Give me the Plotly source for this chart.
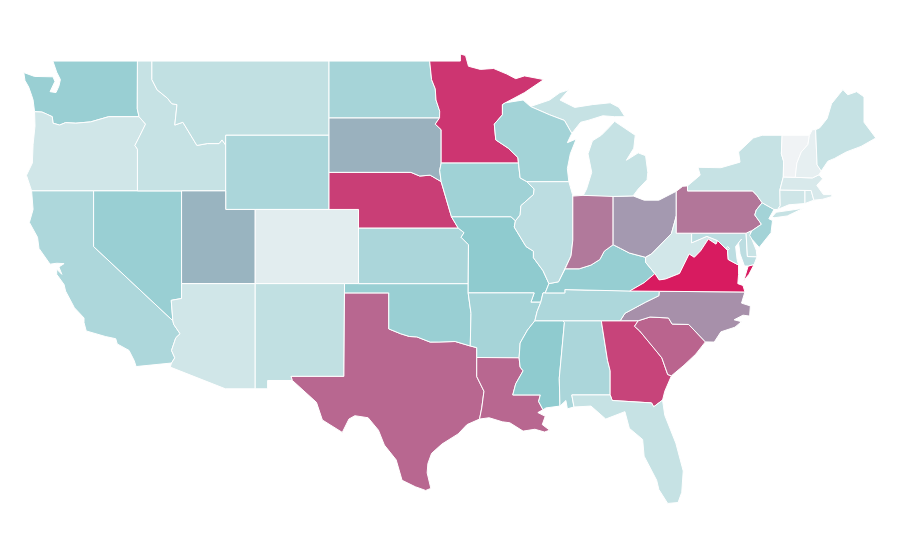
import plotly.graph_objects as go
from plotly.colors import sample_colorscale

# outlines are lon, lat pairs, None starts a separate piece of the same state
WA = [(-122.76,49),(-117.03,49),(-117.04,46.42),(-116.92,46),(-118.98,46),(-119.3,45.93),(-120.2,45.72),(-121.2,45.65),(-121.9,45.68),
      (-122.3,45.55),(-122.75,45.65),(-122.8,46),(-123.2,46.15),(-123.5,46.25),(-124,46.27),(-124.07,46.65),(-124.1,46.9),(-124.2,47.15),
      (-124.4,47.6),(-124.65,47.95),(-124.73,48.38),(-124,48.17),(-123.2,48.15),(-122.75,48.15),(-122.62,47.9),(-122.95,47.35),(-122.55,47.3),
      (-122.35,47.65),(-122.25,48),(-122.5,48.4)]
OR = [(-124,46.27),(-123.5,46.25),(-123.2,46.15),(-122.8,46),(-122.75,45.65),(-122.3,45.55),(-121.9,45.68),(-121.2,45.65),(-120.2,45.72),
      (-119.3,45.93),(-118.98,46),(-116.92,46),(-116.48,45.6),(-116.85,45),(-117.2,44.45),(-117.03,44.25),(-117.03,42),(-124.2,42),
      (-124.4,42.5),(-124.55,42.84),(-124.15,43.5),(-124.1,44.5),(-123.97,45.5)]
CA = [(-124.2,42),(-120,42),(-120,39),(-114.63,35),(-114.57,34.8),(-114.14,34.3),(-114.43,34.08),(-114.72,33.4),(-114.5,33),(-114.72,32.72),
      (-117.12,32.53),(-117.25,32.85),(-117.6,33.4),(-118.4,33.75),(-118.5,34.03),(-119.2,34.15),(-120.5,34.45),(-120.65,34.9),(-120.65,35.15),
      (-121.3,35.7),(-121.9,36.6),(-122,36.95),(-122.5,37.5),(-122.5,37.78),(-122.15,37.5),(-122.35,37.9),(-122,38.08),(-122.5,38.1),
      (-122.95,38.05),(-123.7,38.9),(-123.8,39.5),(-124.35,40.3),(-124.1,41)]
NV = [(-120,42),(-114.04,42),(-114.04,36.2),(-114.74,36.1),(-114.63,35),(-120,39)]
ID = [(-117.03,49),(-116.05,49),(-116.05,48),(-115.7,47.45),(-115,47),(-114.7,46.7),(-114.35,46.65),(-114.5,45.55),(-113.95,45.7),(-113.45,45.05),
      (-113,44.45),(-112.3,44.55),(-111.5,44.55),(-111.3,44.75),(-111.05,44.47),(-111.05,42),(-117.03,42),(-117.03,44.25),(-117.2,44.45),
      (-116.85,45),(-116.48,45.6),(-116.92,46),(-117.04,46.42)]
MT = [(-116.05,49),(-104.05,49),(-104.05,45),(-111.05,45),(-111.05,44.47),(-111.3,44.75),(-111.5,44.55),(-112.3,44.55),(-113,44.45),(-113.45,45.05),
      (-113.95,45.7),(-114.5,45.55),(-114.35,46.65),(-114.7,46.7),(-115,47),(-115.7,47.45),(-116.05,48)]
WY = [(-111.05,45),(-104.05,45),(-104.05,41),(-111.05,41)]
UT = [(-114.04,42),(-111.05,42),(-111.05,41),(-109.05,41),(-109.05,37),(-114.04,37)]
CO = [(-109.05,41),(-102.05,41),(-102.05,37),(-109.05,37)]
AZ = [(-114.04,37),(-109.05,37),(-109.05,31.33),(-111.07,31.33),(-114.81,32.5),(-114.72,32.72),(-114.5,33),(-114.72,33.4),(-114.43,34.08),
      (-114.14,34.3),(-114.57,34.8),(-114.63,35),(-114.74,36.1),(-114.04,36.2)]
NM = [(-109.05,37),(-103,37),(-103.04,32),(-106.62,32),(-106.53,31.78),(-108.21,31.78),(-108.21,31.33),(-109.05,31.33)]
TX = [(-103,36.5),(-100,36.5),(-100,34.56),(-99.2,34.3),(-98.6,34.15),(-98.1,34.13),(-97.2,33.85),(-96.6,33.85),(-95.5,33.88),(-94.48,33.64),
      (-94.04,33.55),(-94.04,31.99),(-93.55,31.2),(-93.7,30.3),(-93.85,29.7),(-94.7,29.4),(-95.3,28.9),(-96.4,28.35),(-97.1,27.85),(-97.35,27.3),
      (-97.4,26.8),(-97.15,25.96),(-97.5,25.85),(-98.2,26.05),(-99.1,26.4),(-99.5,27.5),(-100.3,28.3),(-100.7,29.1),(-101.4,29.77),(-102.3,29.88),
      (-102.7,29.7),(-103.15,28.98),(-104.5,29.65),(-104.9,30.6),(-106,31.4),(-106.53,31.78),(-106.62,32),(-103.04,32)]
OK = [(-103,37),(-94.62,37),(-94.62,36.5),(-94.43,35.4),(-94.48,33.64),(-95.5,33.88),(-96.6,33.85),(-97.2,33.85),(-98.1,34.13),(-98.6,34.15),
      (-99.2,34.3),(-100,34.56),(-100,36.5),(-103,36.5)]
KS = [(-102.05,40),(-95.3,40),(-94.9,39.75),(-95.1,39.5),(-94.6,39.1),(-94.62,37),(-102.05,37)]
NE = [(-104.05,43),(-98.5,43),(-97.9,42.8),(-97.2,42.85),(-96.45,42.5),(-96.25,42),(-96.1,41.5),(-95.9,41),(-95.75,40.6),(-95.3,40),(-102.05,40),
      (-102.05,41),(-104.05,41)]
SD = [(-104.05,45.94),(-96.56,45.94),(-96.85,45.6),(-96.45,45.3),(-96.45,43.5),(-96.55,43.1),(-96.45,42.5),(-97.2,42.85),(-97.9,42.8),(-98.5,43),(-104.05,43)]
ND = [(-104.05,49),(-97.23,49),(-97.1,48),(-96.85,47.5),(-96.8,46.9),(-96.55,46.3),(-96.56,45.94),(-104.05,45.94)]
MN = [(-97.23,49),(-95.15,49),(-95.15,49.38),(-94.8,49.3),(-94.6,48.72),(-93.8,48.55),(-92.9,48.6),(-92,48.3),(-91.4,48.05),(-90.8,48.2),(-89.5,48),
      (-90.8,47.3),(-92.1,46.75),(-92.3,46.65),(-92.3,46.1),(-92.85,45.6),(-92.75,44.75),(-91.9,44.3),(-91.25,43.8),(-91.22,43.5),(-96.45,43.5),
      (-96.45,45.3),(-96.85,45.6),(-96.56,45.94),(-96.55,46.3),(-96.8,46.9),(-96.85,47.5),(-97.1,48)]
IA = [(-96.45,43.5),(-91.22,43.5),(-91.1,42.7),(-90.65,42.5),(-90.15,42.1),(-90.2,41.8),(-91.05,41.2),(-91.1,40.7),(-91.42,40.38),(-91.72,40.6),
      (-95.75,40.6),(-95.9,41),(-96.1,41.5),(-96.25,42),(-96.45,42.5),(-96.55,43.1)]
MO = [(-95.75,40.6),(-91.72,40.6),(-91.42,40.38),(-91.5,40.05),(-90.7,39),(-90.2,38.75),(-90.2,38.4),(-89.55,37.7),(-89.15,37),(-89.4,36.5),(-89.55,36.5),
      (-89.7,36),(-90.37,36),(-90.15,36.5),(-94.62,36.5),(-94.62,37),(-94.6,39.1),(-95.1,39.5),(-94.9,39.75),(-95.3,40)]
AR = [(-94.62,36.5),(-90.15,36.5),(-90.37,36),(-89.7,36),(-89.95,35.5),(-90.1,35),(-90.6,34.5),(-91.1,33.8),(-91.17,33),(-94.04,33.02),(-94.04,33.55),
      (-94.48,33.64),(-94.43,35.4)]
LA = [(-94.04,33.02),(-91.17,33),(-91.1,32.5),(-90.9,32.3),(-91.4,31.6),(-91.6,31),(-89.73,31),(-89.85,30.65),(-89.55,30.2),(-89.9,30.05),(-89.4,29.85),
      (-89.6,29.4),(-89.1,29.1),(-89.45,29),(-90.1,29.15),(-90.9,29.05),(-91.8,29.5),(-92.3,29.55),(-93.2,29.77),(-93.85,29.7),(-93.7,30.3),(-93.55,31.2),(-94.04,31.99)]
MS = [(-90.1,35),(-88.2,35),(-88.1,34.9),(-88.45,31.9),(-88.4,30.4),(-89.35,30.3),(-89.55,30.2),(-89.85,30.65),(-89.73,31),(-91.6,31),(-91.4,31.6),
      (-90.9,32.3),(-91.1,32.5),(-91.17,33),(-91.1,33.8),(-90.6,34.5)]
AL = [(-88.2,35),(-85.6,35),(-85.18,32.87),(-85,32.3),(-85,31),(-87.6,31),(-87.45,30.35),(-87.9,30.25),(-88,30.7),(-88.4,30.4),(-88.45,31.9),(-88.1,34.9)]
GA = [(-85.6,35),(-83.1,35),(-83.35,34.7),(-83,34.45),(-82,33.5),(-81.5,33),(-81.1,32.1),(-80.85,32.03),(-81.3,31.2),(-81.45,30.72),(-82.05,30.36),
      (-82.2,30.57),(-84.86,30.7),(-85,31),(-85,32.3),(-85.18,32.87)]
FL = [(-87.6,31),(-85,31),(-84.86,30.7),(-82.2,30.57),(-82.05,30.36),(-81.45,30.72),(-81.3,29.9),(-80.55,28.4),(-80.05,26.9),(-80.15,25.75),(-80.4,25.2),
      (-81.1,25.15),(-81.7,25.9),(-81.85,26.4),(-82.7,27.7),(-82.8,28.6),(-83.7,29.2),(-84,30.1),(-85.3,29.7),(-86.3,30.4),(-87.45,30.35)]
SC = [(-83.1,35),(-82.3,35.2),(-81.05,35.15),(-80.8,34.82),(-79.68,34.8),(-78.55,33.86),(-79.2,33.2),(-80,32.6),(-80.85,32.03),(-81.1,32.1),(-81.5,33),
      (-82,33.5),(-83,34.45),(-83.35,34.7)]
NC = [(-84.32,35),(-83.1,35),(-82.3,35.2),(-81.05,35.15),(-80.8,34.82),(-79.68,34.8),(-78.55,33.86),(-77.95,33.85),(-77.5,34.4),(-76.55,34.65),(-76.1,34.95),
      (-76.6,35.05),(-76,35.3),(-75.55,35.25),(-75.5,35.8),(-76.1,35.95),(-75.87,36.55),(-81.68,36.59),(-81.7,36.35),(-82.6,36),(-84,35.4)]
TN = [(-90.1,35),(-89.95,35.5),(-89.7,36),(-89.55,36.5),(-88.07,36.5),(-88.07,36.68),(-86.5,36.65),(-83.68,36.6),(-81.68,36.59),(-81.7,36.35),(-82.6,36),
      (-84,35.4),(-84.32,35),(-85.6,35),(-88.2,35)]
KY = [(-89.4,36.5),(-89.15,37),(-88.5,37.1),(-88.05,37.8),(-87.1,37.8),(-86.3,38),(-85.7,38.3),(-85.4,38.75),(-84.8,39.1),(-84.3,38.9),(-83.7,38.65),
      (-82.6,38.42),(-82.6,38.15),(-81.97,37.54),(-82.7,37.05),(-83.68,36.6),(-86.5,36.65),(-88.07,36.68),(-88.07,36.5)]
IL = [(-90.65,42.5),(-87.8,42.5),(-87.55,41.8),(-87.53,39.35),(-87.65,38.5),(-88.05,37.8),(-88.5,37.1),(-89.15,37),(-89.55,37.7),(-90.2,38.4),(-90.2,38.75),
      (-90.7,39),(-91.5,40.05),(-91.42,40.38),(-91.1,40.7),(-91.05,41.2),(-90.2,41.8),(-90.15,42.1)]
IN = [(-87.53,41.72),(-86.82,41.76),(-84.8,41.76),(-84.8,39.1),(-85.4,38.75),(-85.7,38.3),(-86.3,38),(-87.1,37.8),(-88.05,37.8),(-87.65,38.5),(-87.53,39.35)]
OH = [(-84.8,41.7),(-83.45,41.73),(-82.7,41.5),(-81.7,41.5),(-80.52,41.98),(-80.52,40.64),(-80.85,39.7),(-81.7,39),(-82.2,38.6),(-82.6,38.42),(-83.7,38.65),
      (-84.3,38.9),(-84.8,39.1)]
MI = [(-86.82,41.76),(-84.8,41.7),(-83.45,41.73),(-83.1,42.1),(-82.5,42.6),(-82.45,43),(-82.6,43.9),(-83.1,44.05),(-83.9,43.65),(-83.4,44.3),(-83.3,45),
      (-84.7,45.75),(-85.1,45.4),(-85.6,45),(-86.2,44.7),(-86.5,44),(-86.25,43),(-86.6,42.1),None,
      (-90.4,46.55),(-89.1,46.9),(-88.4,47.3),(-87.8,47.45),(-88.4,46.9),(-87.4,46.5),(-86.2,46.65),(-85,46.75),(-84.4,46.5),(-84,46),(-84.7,46),(-85.5,46.05),
      (-86.5,45.8),(-87,45.7),(-87.6,45.1),(-88.1,45.8),(-89.1,46.1)]
WI = [(-92.1,46.75),(-92.3,46.65),(-92.3,46.1),(-92.85,45.6),(-92.75,44.75),(-91.9,44.3),(-91.25,43.8),(-91.22,43.5),(-91.1,42.7),(-90.65,42.5),(-87.8,42.5),
      (-87.9,43.2),(-87.7,44),(-87.3,44.8),(-87.9,44.6),(-87.6,45.1),(-88.1,45.8),(-89.1,46.1),(-90.4,46.55),(-90.9,46.9)]
WV = [(-80.52,40.64),(-80.52,39.72),(-79.48,39.72),(-79.48,39.2),(-78.45,39.55),(-77.72,39.32),(-77.83,39.13),(-78.35,39.4),(-78.87,38.77),(-79.3,38.42),
      (-79.65,38.6),(-80.3,37.55),(-81.25,37.25),(-81.68,37.2),(-81.97,37.54),(-82.6,38.15),(-82.6,38.42),(-82.2,38.6),(-81.7,39),(-80.85,39.7)]
VA = [(-83.68,36.6),(-81.68,36.59),(-75.87,36.55),(-76,36.9),(-76.35,37),(-76.3,37.5),(-76.3,38),(-77,38.3),(-77.05,38.8),(-77.72,39.32),(-77.83,39.13),
      (-78.35,39.4),(-78.87,38.77),(-79.3,38.42),(-79.65,38.6),(-80.3,37.55),(-81.25,37.25),(-81.68,37.2),(-81.97,37.54),(-82.7,37.05),None,
      (-75.95,37.15),(-75.65,37.95),(-75.25,38.03),(-75.6,37.5)]
MD = [(-79.48,39.72),(-75.79,39.72),(-75.7,38.46),(-75.05,38.45),(-75.25,38.03),(-75.65,37.95),(-75.9,37.95),(-76.2,38.6),(-76.3,39.2),(-76.1,39.4),(-76.5,39),
      (-76.4,38.3),(-76.3,38),(-77,38.3),(-77.05,38.8),(-77.72,39.32),(-78.45,39.55),(-79.48,39.2)]
DE = [(-75.79,39.72),(-75.5,39.83),(-75.4,39.4),(-75.1,38.8),(-75.05,38.45),(-75.7,38.46)]
DC = [(-77.12,38.93),(-77.04,39),(-76.91,38.89),(-77.04,38.79)]
PA = [(-80.52,41.98),(-80.08,42.25),(-79.76,42.27),(-79.76,42),(-75.35,42),(-75.05,41.75),(-74.7,41.36),(-75.1,40.97),(-75.2,40.7),(-74.75,40.2),(-75.4,39.85),
      (-75.5,39.83),(-75.79,39.72),(-80.52,39.72)]
NJ = [(-74.7,41.36),(-73.9,41),(-74.25,40.5),(-74,40.4),(-74.1,39.75),(-74.9,38.95),(-75.4,39.4),(-75.55,39.6),(-75.4,39.85),(-74.75,40.2),(-75.2,40.7),(-75.1,40.97)]
NY = [(-79.76,42),(-79.76,42.27),(-78.9,42.85),(-79.05,43.27),(-77.5,43.25),(-76.2,43.55),(-76.3,44.1),(-75.3,44.85),(-74.7,45),(-73.35,45),(-73.4,44),(-73.25,43.6),
      (-73.27,42.75),(-73.5,42.05),(-73.48,41.2),(-73.65,41),(-73.9,41),(-74.7,41.36),(-75.05,41.75),(-75.35,42),None,
      (-74.03,40.6),(-73.75,40.85),(-72.6,40.98),(-71.9,41.07),(-73,40.65),(-73.9,40.55)]
CT = [(-73.5,42.05),(-71.8,42.02),(-71.8,41.32),(-72.9,41.25),(-73.65,41),(-73.48,41.2)]
RI = [(-71.8,42.02),(-71.38,42.02),(-71.2,41.5),(-71.8,41.32)]
MA = [(-73.5,42.05),(-73.27,42.75),(-72.46,42.73),(-71.3,42.7),(-70.85,42.87),(-70.6,42.65),(-71,42.3),(-70.55,41.8),(-70.05,41.8),(-70.2,42.07),(-69.95,41.7),
      (-70.6,41.55),(-71.2,41.5),(-71.38,42.02),(-71.8,42.02)]
VT = [(-73.35,45),(-71.5,45),(-71.6,44.5),(-72.05,44.1),(-72.35,43.5),(-72.46,42.73),(-73.27,42.75),(-73.25,43.6),(-73.4,44)]
NH = [(-71.5,45),(-71.3,45.3),(-71.08,45.3),(-70.98,43.4),(-70.7,43.07),(-70.85,42.87),(-71.3,42.7),(-72.46,42.73),(-72.35,43.5),(-72.05,44.1),(-71.6,44.5)]
ME = [(-71.08,45.3),(-70.8,45.4),(-70.3,45.9),(-70,46.7),(-69.23,47.46),(-68.9,47.18),(-68.3,47.35),(-67.8,47.07),(-67.8,45.7),(-67.45,45.3),(-67,44.85),(-68,44.4),
      (-69,44.1),(-69.8,43.75),(-70.25,43.6),(-70.7,43.07),(-70.98,43.4)]

states = [WA,OR,CA,NV,ID,MT,WY,UT,CO,AZ,NM,TX,OK,KS,NE,SD,ND,MN,IA,MO,AR,LA,MS,AL,GA,FL,SC,NC,TN,KY,IL,IN,OH,MI,WI,WV,VA,MD,DE,DC,PA,NJ,NY,CT,RI,MA,VT,NH,ME]
values = [36,14,28,36,18,20,29,48,7,14,20,74,36,29,88,49,31,91,33,40,31,74,40,29,86,18,75,60,28,37,22,68,57,18,32,13,100,22,17,22,69,32,18,15,13,11,1,5,18]

colorscale = [[0, '#f3f4f6'], [0.4, '#8fcbcf'], [1, '#d81b60']]


def closed_outline(shape):
    # every piece has to end on its own first point
    lons, lats = [], []
    first = None
    for point in shape + [None]:
        if point is None:
            lons += [first[0], None]
            lats += [first[1], None]
            first = None
        else:
            first = first or point
            lons.append(point[0])
            lats.append(point[1])
    return lons, lats


fig = go.Figure()
for shape, value in zip(states, values):
    lons, lats = closed_outline(shape)
    color = sample_colorscale(colorscale, value / 100)[0]
    fig.add_trace(go.Scatter(x=lons, y=lats, mode='lines', fill='toself', fillcolor=color,
                             line=dict(color='white', width=1), hoverinfo='skip'))

# the page itself sits 8px in from the window edge
fig.update_xaxes(range=[-125.8, -64.82], visible=False)
fig.update_yaxes(range=[21.67, 51.86], visible=False)
fig.update_layout(width=900, height=560, margin=dict(l=0, r=0, t=0, b=0), showlegend=False,
                  paper_bgcolor='white', plot_bgcolor='white')

fig.write_html("out.html")
